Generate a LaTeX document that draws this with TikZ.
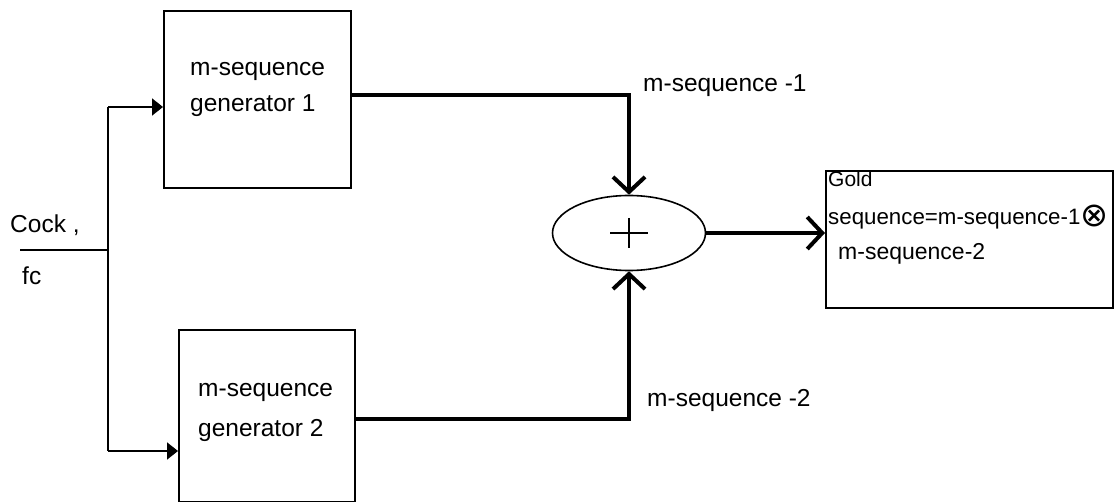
\documentclass[tikz,border=0pt]{standalone}
\usepackage{graphicx}
\usepackage{fontspec}
\setmainfont{Liberation Sans}
\newfontfamily\symfont{DejaVu Sans}
\usetikzlibrary{arrows.meta,shapes.geometric}
\begin{document}
\begin{tikzpicture}[x=1pt,y=-1pt,
  blockbox/.style={draw,line width=1.6pt,inner sep=0pt,anchor=north west},
  lbl/.style={anchor=base west,inner sep=0pt,font=\fontsize{24.5}{29}\selectfont},
  thinline/.style={line width=1.8pt},
  heavy/.style={line width=4pt},
  feed/.style={thinline,-{Triangle[length=11pt,width=17pt]}},
  sig/.style={heavy,-{Straight Barb[length=15pt,width=32pt]}}
]
\useasboundingbox (0,0) rectangle (1114,502);

% generator blocks and output box
\node[blockbox,minimum width=187pt,minimum height=177pt] (gen1) at (163,10) {};
\node[blockbox,minimum width=176pt,minimum height=172pt] (gen2) at (178,329) {};
\node[blockbox,minimum width=287pt,minimum height=137pt] (gold) at (825,170) {};

% modulo-2 adder
\node[draw,ellipse,line width=1.6pt,minimum width=153pt,minimum height=75pt,inner sep=0pt] (sum) at (629,233) {};
\draw[thinline] ([xshift=-19pt]sum.center) -- ([xshift=19pt]sum.center);
\draw[thinline] ([yshift=15pt]sum.center) -- ([yshift=-15pt]sum.center);

% block texts
\node[lbl] (g1a) at (190,76) {m-sequence};
\node[lbl] (g1b) at (190,112) {generator 1};
\node[lbl] (g2a) at (198,397) {m-sequence};
\node[lbl] (g2b) at (198,437) {generator 2};
\node[lbl] (ck) at (10,233) {Cock ,};
\node[lbl] (fc) at (22,285) {fc};
\node[lbl] (s1) at (643,92) {m-sequence -1};
\node[lbl] (s2) at (647,407) {m-sequence -2};
\node[lbl,font=\fontsize{21}{25}\selectfont] (gt1) at (828,187) {Gold};
\node[lbl,font=\fontsize{22.3}{27}\selectfont] (gt2) at (828,225) {sequence=m-sequence-1\raisebox{-2pt}{\scalebox{1.5}{\symfont ⊗}}};
\node[lbl,font=\fontsize{23}{27}\selectfont] (gt3) at (838,260) {m-sequence-2};

% clock distribution
\coordinate (clk) at (20,250);
\coordinate (j) at (108,250);
\coordinate (jt) at (108,107);
\coordinate (jb) at (108,451);
\draw[thinline] (clk) -- (j);
\draw[thinline] (jt) -- (jb);
\draw[feed] (jt) -- (jt -| gen1.west);
\draw[feed] (jb) -- (jb -| gen2.west);

% sequence paths into the adder and output
\coordinate (o1) at (350,95);
\coordinate (c1) at (629,95);
\coordinate (o2) at (354,419);
\coordinate (c2) at (629,419);
\draw[sig] (o1) -- (c1) -- (sum.north);
\draw[sig] (o2) -- (c2) -- (sum.south);
\draw[sig] (sum.east) -- (gold.west |- sum.east);
\end{tikzpicture}
\end{document}
